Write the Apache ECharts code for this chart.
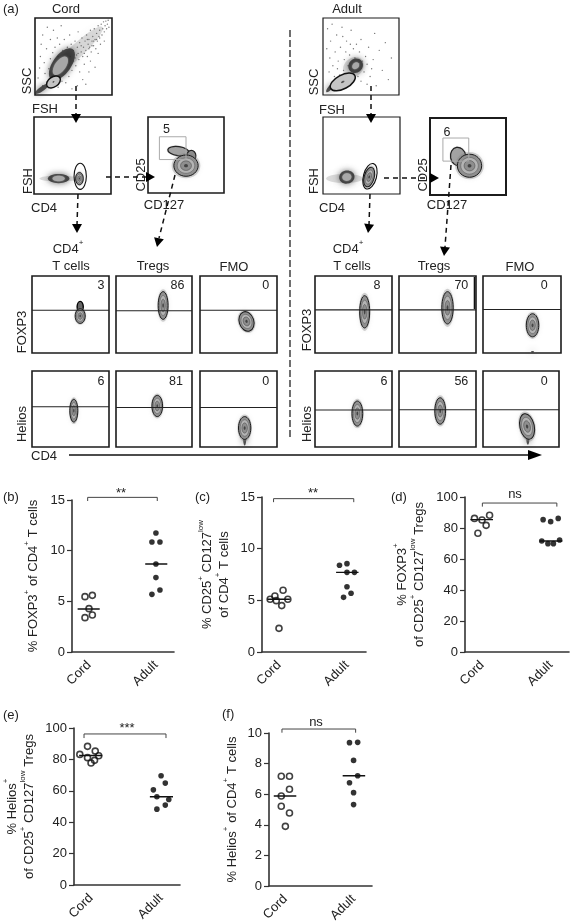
<!DOCTYPE html>
<html>
<head>
<meta charset="utf-8">
<style>
  html, body { margin: 0; padding: 0; background: #fff; }
  #chart { width: 570px; height: 921px; }
</style>
<script src="https://cdn.jsdelivr.net/npm/echarts@6/dist/echarts.min.js"></script>
</head>
<body>
<div id="chart"></div>
<script>
// ---- summary dot plots: [position, percent], 1 = Cord, 2 = Adult ----
const groupNames = ['Cord', 'Adult'];

const bCord = [[0.94, 5.46], [1.05, 5.59], [1, 4.28], [0.94, 3.39], [1.05, 3.65]];
const bAdult = [[2, 11.74], [1.94, 10.86], [2.06, 10.86], [2, 8.68], [2, 7.34], [2.06, 6.12], [1.94, 5.69]];
const bMedians = [4.25, 8.68];

const cCord = [[1.06, 5.97], [0.94, 5.42], [0.87, 5.1], [0.96, 4.97], [1.13, 5.1], [1.04, 4.49], [1, 2.29]];
const cAdult = [[1.89, 8.39], [2, 8.55], [2, 7.71], [2.11, 7.71], [2, 6.32], [2.06, 5.68], [1.95, 5.29]];
const cMedians = [5.1, 7.71];

const dCord = [[0.89, 86.2], [1, 85.2], [1.11, 88.2], [1.06, 81.7], [0.94, 76.6]];
const dAdult = [[1.89, 85.4], [2, 84.1], [2.11, 86.2], [1.87, 71.6], [1.96, 69.9], [2.04, 69.9], [2.13, 72.3]];
const dMedians = [85.4, 71.6];

const eCord = [[0.95, 88.3], [1.06, 85.3], [0.84, 83.2], [1.11, 82.3], [0.95, 81.1], [1.05, 79.4], [1, 77.7]];
const eAdult = [[2, 69.6], [2.06, 64.9], [1.89, 60.6], [1.94, 56.2], [2.11, 54.5], [2.06, 50.9], [1.94, 48.3]];
const eMedians = [82.5, 56.2];

const fCord = [[0.94, 7.17], [1.06, 7.17], [1.06, 6.32], [0.94, 5.88], [0.94, 5.21], [1.06, 4.77], [1, 3.9]];
const fAdult = [[1.94, 9.37], [2.06, 9.39], [2, 8.21], [2.06, 7.21], [1.94, 6.75], [2, 6.1], [2, 5.32]];
const fMedians = [5.88, 7.21];

// ---- flow panels: percent printed in each panel ----
const cordFoxp3Pct = ['3', '86', '0'];
const cordHeliosPct = ['6', '81', '0'];
const adultFoxp3Pct = ['8', '70', '0'];
const adultHeliosPct = ['6', '56', '0'];

// gate position of the horizontal line, panel units 0-100
const cordFoxp3Gate = [55.6, 54.8, 55.6];
const cordHeliosGate = [53, 52, 52];
const adultFoxp3Gate = [56, 56, 56.5];
const adultHeliosGate = [48.7, 49, 49];

// contours: [x, y, rx, ry, rotation, kind], panel units 0-100
const cordSscShapes = [
  [54, 57, 46, 9, 43, 0], [35, 40, 24, 12, 55, 1], [33, 38, 14, 7, 55, 5],
  [9, 8, 11, 3, 35, 1], [24, 17, 10, 6.5, 35, 3]
];
const adultSscShapes = [
  [40, 36, 15, 12, 45, 0], [43, 38, 10, 9, 40, 1], [43, 38, 5, 4, 40, 5],
  [9, 9, 7, 2.5, 50, 1], [26, 17, 18, 9, 28, 3]
];
const cordFshShapes = [
  [32, 20, 25, 4, 0, 0], [32, 20, 14, 6, 0, 1], [32, 20, 8, 3.6, 0, 5],
  [59, 20, 5, 8, 0, 2], [60, 23, 8, 17, 0, 4]
];
const adultFshShapes = [
  [28, 20, 24, 6, 0, 0], [31, 22, 10, 8.5, 10, 1], [31, 22, 6, 5, 10, 5],
  [60, 22, 6.5, 13, -15, 2], [61, 23, 8.5, 17, -15, 4]
];
const cordCd25Shapes = [
  [40, 55, 14, 6, -8, 7], [57, 49, 6, 7, 0, 8], [50, 36, 16, 14, 0, 2]
];
const adultCd25Shapes = [
  [37, 50, 10, 12, 10, 7], [52, 38, 16, 15, 0, 2]
];
const cordFoxp3Shapes = [
  [[62.6, 60, 4, 7, 0, 9], [62.6, 48, 6.5, 9.6, 0, 2]],
  [[62, 61.7, 6.5, 18, 0, 2]],
  [[60.4, 41, 9.5, 13, 18, 2]]
];
const cordHeliosShapes = [
  [[54.3, 47.8, 5.2, 15, 0, 2]],
  [[54.3, 54, 7, 14, 0, 2]],
  [[58, 11, 2, 9, 0, 1], [58, 25, 8, 15, 0, 2]]
];
const adultFoxp3Shapes = [
  [[64.5, 53.5, 6.5, 21, 0, 2]],
  [[63, 58.7, 7.4, 21, 0, 2]],
  [[63.5, 36, 8, 15, 0, 2], [63.5, 1.5, 2, 1, 0, 1]]
];
const adultHeliosShapes = [
  [[55, 44, 7, 16.5, 0, 2]],
  [[53.5, 47.4, 7, 17.4, 0, 2]],
  [[59, 11, 2, 8, 0, 1], [58, 27, 9.5, 17, 12, 2]]
];

// corners of the light square gate
const cordSquareGate = [[15, 44], [50, 44], [50, 74], [15, 74], [15, 44]];
const adultSquareGate = [[17, 44], [51, 44], [51, 74], [17, 74], [17, 44]];

// scattered events
const cordSscEvents = [
  [4, 22], [6, 35], [7, 50], [8, 66], [10, 78], [12, 42], [13, 28], [15, 60], [16, 88], [18, 34],
  [20, 47], [20, 72], [23, 55], [24, 84], [26, 62], [28, 28], [29, 74], [30, 10], [32, 66], [34, 90],
  [35, 18], [36, 58], [38, 72], [40, 16], [42, 62], [44, 24], [45, 78], [46, 50], [47, 66], [48, 32],
  [50, 44], [50, 58], [52, 70], [53, 38], [54, 52], [55, 62], [56, 82], [57, 46], [58, 30], [58, 68],
  [60, 56], [61, 74], [62, 50], [63, 62], [64, 40], [65, 70], [66, 58], [67, 78], [68, 50], [69, 66],
  [70, 72], [71, 62], [72, 84], [73, 56], [74, 70], [75, 76], [76, 64], [77, 86], [78, 72], [79, 60],
  [80, 80], [81, 70], [82, 90], [83, 76], [84, 84], [85, 66], [86, 92], [87, 78], [88, 86], [89, 95],
  [90, 82], [91, 90], [92, 96], [93, 86], [94, 92], [95, 97], [96, 88], [62, 20], [70, 30], [78, 36],
  [55, 12], [48, 8], [66, 14], [42, 40], [30, 50], [18, 14], [10, 12], [72, 44], [82, 54], [90, 70],
  [74, 64], [68, 72], [60, 64], [56, 54], [52, 48], [64, 54], [76, 70], [84, 74], [80, 72], [70, 60]
];
const adultSscEvents = [
  [5, 60], [6, 86], [8, 30], [9, 48], [10, 70], [12, 92], [13, 38], [15, 24], [16, 56], [18, 78],
  [19, 34], [20, 44], [22, 26], [23, 62], [25, 88], [27, 32], [28, 46], [30, 56], [31, 70], [33, 38],
  [35, 52], [37, 84], [38, 28], [40, 60], [42, 48], [44, 66], [46, 24], [48, 56], [50, 72], [52, 44],
  [54, 30], [56, 50], [58, 40], [60, 62], [62, 24], [64, 34], [66, 46], [68, 80], [70, 12], [74, 58],
  [78, 32], [82, 68], [86, 20], [90, 48], [50, 18], [58, 14], [14, 16], [26, 76], [36, 66], [46, 36]
];

// ---- shared styling ----
const textColor = '#222';
const fontName = '"Liberation Sans", Arial, sans-serif';
const supRich = {
  n: { fontFamily: fontName, fontSize: 13, lineHeight: 17, color: textColor, verticalAlign: 'bottom' },
  s: { fontFamily: fontName, fontSize: 8, lineHeight: 17, color: textColor, verticalAlign: 'top' }
};

// ellipse stacks per kind: [scale, fill, stroke, lineWidth, blur]
const shapeKinds = [
  [[1, 'rgba(110,110,110,0.24)', null, 0, 8]],
  [[1, 'rgba(45,45,45,0.82)', null, 0, 6]],
  [[1.18, 'rgba(130,130,130,0.35)', null, 0, 4], [1, '#8f8f8f', '#1a1a1a', 1, 0], [0.72, '#b4b4b4', '#555', 0.5, 0], [0.45, '#8e8e8e', '#444', 0.5, 0], [0.16, '#444', null, 0, 0]],
  [[1, '#c4c4c4', '#111', 1.5, 0], [0.14, '#555', null, 0, 0]],
  [[1, 'rgba(0,0,0,0)', '#111', 1.1, 0]],
  [[1, '#a8a8a8', null, 0, 2]],
  [[1, '#111', null, 0, 0]],
  [[1, '#a3a3a3', '#222', 1.2, 1]],
  [[1, '#8e8e8e', '#222', 1.2, 0]],
  [[1, '#666', '#000', 1.4, 0]]
];

function renderShape(params, api) {
  const c = api.coord([api.value(0), api.value(1)]);
  const s = api.size([api.value(2), api.value(3)]);
  return {
    type: 'group',
    x: c[0],
    y: c[1],
    rotation: api.value(4) * Math.PI / 180,
    children: shapeKinds[api.value(5)].map(l => ({
      type: 'ellipse',
      shape: { cx: 0, cy: 0, rx: s[0] * l[0], ry: s[1] * l[0] },
      style: { fill: l[1], stroke: l[2], lineWidth: l[3], shadowBlur: l[4], shadowColor: l[1] }
    }))
  };
}

const grid = [];
const xAxis = [];
const yAxis = [];
const series = [];
const graphic = [];

// ---- flow panel builder ----
function addFlowPanel(box, border) {
  const i = grid.length;
  grid.push({ show: true, outerBoundsMode: 'none', left: box[0], top: box[1], width: box[2], height: box[3], borderColor: '#1c1c1c', borderWidth: border || 1.6, backgroundColor: '#fff' });
  xAxis.push({ gridIndex: i, type: 'value', min: 0, max: 100, show: false });
  yAxis.push({ gridIndex: i, type: 'value', min: 0, max: 100, show: false });
  return i;
}

function addShapes(i, shapes) {
  series.push({
    type: 'custom', xAxisIndex: i, yAxisIndex: i, z: 3, silent: true,
    encode: { x: 0, y: 1 }, renderItem: renderShape, data: shapes
  });
}

function addGateLine(i, pts, color, width) {
  series.push({
    type: 'line', xAxisIndex: i, yAxisIndex: i, z: 4, silent: true, symbol: 'none',
    lineStyle: { color: color, width: width }, data: pts
  });
}

function addEvents(i, pts) {
  series.push({
    type: 'scatter', xAxisIndex: i, yAxisIndex: i, z: 2, silent: true, symbolSize: 1.4,
    itemStyle: { color: '#555' }, data: pts
  });
}

function addPercent(i, u, v, text) {
  series.push({
    type: 'custom', xAxisIndex: i, yAxisIndex: i, z: 5, silent: true,
    encode: { x: 0, y: 1 },
    renderItem: function (params, api) {
      const c = api.coord([api.value(0), api.value(1)]);
      return {
        type: 'text', x: c[0], y: c[1],
        style: { text: text, align: 'right', verticalAlign: 'middle', fill: textColor, font: '12.5px ' + fontName }
      };
    },
    data: [[u, v]]
  });
}

function addRow(boxes, gates, shapes, pcts, pctX, pctY) {
  boxes.forEach((box, k) => {
    const i = addFlowPanel(box);
    addShapes(i, shapes[k]);
    addGateLine(i, [[0, gates[k]], [100, gates[k]]], '#222', 1.1);
    addPercent(i, pctX[k], pctY, pcts[k]);
  });
}

let p = addFlowPanel([35, 18, 77, 77]);
addEvents(p, cordSscEvents);
addShapes(p, cordSscShapes);
p = addFlowPanel([34, 117, 77, 77]);
addShapes(p, cordFshShapes);
p = addFlowPanel([148, 117, 76, 76]);
addGateLine(p, cordSquareGate, '#aaa', 1);
addShapes(p, cordCd25Shapes);
addPercent(p, 29, 83, '5');

p = addFlowPanel([323, 18, 76, 77], 1.2);
addEvents(p, adultSscEvents);
addShapes(p, adultSscShapes);
p = addFlowPanel([323, 117, 77, 77], 1.2);
addShapes(p, adultFshShapes);
p = addFlowPanel([430, 118, 76, 77], 2);
addGateLine(p, adultSquareGate, '#aaa', 1);
addShapes(p, adultCd25Shapes);
addPercent(p, 27, 81, '6');

const cordTop = [[32, 276, 77, 77], [116, 276, 76, 77], [200, 276, 77, 77]];
const cordBottom = [[32, 371, 77, 76], [116, 371, 76, 76], [200, 371, 77, 76]];
const adultTop = [[315, 276, 77, 77], [399, 276, 77, 77], [483, 276, 78, 77]];
const adultBottom = [[315, 371, 77, 76], [399, 371, 77, 76], [483, 371, 76, 76]];
addRow(cordTop, cordFoxp3Gate, cordFoxp3Shapes, cordFoxp3Pct, [94, 90, 90], 87);
addRow(cordBottom, cordHeliosGate, cordHeliosShapes, cordHeliosPct, [94, 88, 90], 85.6);
addRow(adultTop, adultFoxp3Gate, adultFoxp3Shapes, adultFoxp3Pct, [85, 90, 83], 87);
addRow(adultBottom, adultHeliosGate, adultHeliosShapes, adultHeliosPct, [94, 90, 85], 85.6);

// ---- dot plot builder ----
function addDotPlot(o) {
  const i = grid.length;
  grid.push({ outerBoundsMode: 'none', left: o.box[0], top: o.box[1], width: o.box[2], height: o.box[3] });
  xAxis.push({
    gridIndex: i, type: 'value', min: o.xRange[0], max: o.xRange[1], splitLine: { show: false },
    axisLine: { lineStyle: { color: '#333', width: 1.6 } }, axisTick: { show: false },
    axisLabel: {
      customValues: [1, 2], rotate: 45, margin: 11, fontSize: 13, fontFamily: fontName, color: textColor,
      formatter: v => groupNames[Math.round(v) - 1]
    }
  });
  yAxis.push({
    gridIndex: i, type: 'value', min: 0, max: o.yMax, interval: o.yStep, splitLine: { show: false },
    axisLine: { show: true, onZero: false, lineStyle: { color: '#333', width: 1.6 } },
    axisTick: { show: true, length: 5, lineStyle: { color: '#333', width: 1.2 } },
    axisLabel: { margin: 7, fontSize: 13, fontFamily: fontName, color: textColor },
    name: o.title, nameLocation: 'middle', nameRotate: 90, nameGap: o.nameGap,
    nameTextStyle: { rich: supRich, lineHeight: 17, align: 'center' }
  });
  series.push({
    type: 'scatter', xAxisIndex: i, yAxisIndex: i, z: 4, symbolSize: 6, silent: true,
    itemStyle: { color: 'rgba(255,255,255,0)', borderColor: '#111', borderWidth: 1.6 }, data: o.cord
  });
  series.push({
    type: 'scatter', xAxisIndex: i, yAxisIndex: i, z: 4, symbolSize: 5.6, silent: true,
    itemStyle: { color: '#000' }, data: o.adult
  });
  [0.83, 1.84].forEach((start, k) => {
    series.push({
      type: 'line', xAxisIndex: i, yAxisIndex: i, z: 5, symbol: 'none', silent: true,
      lineStyle: { color: '#111', width: 1.4 },
      data: [[start, o.medians[k]], [start + 0.33, o.medians[k]]]
    });
  });
  const b = o.bracket;
  series.push({
    type: 'line', xAxisIndex: i, yAxisIndex: i, z: 3, symbol: 'none', silent: true, clip: false,
    lineStyle: { color: '#444', width: 1 },
    data: [[b[0], b[3]], [b[0], b[2]], [b[1], b[2]], [b[1], b[3]]]
  });
}

addDotPlot({
  box: [72, 500, 102, 152], xRange: [0.746, 2.27], yMax: 15, yStep: 5, nameGap: 32,
  title: '{n|% FOXP3}{s|+}{n| of CD4}{s|+}{n| T cells}',
  cord: bCord, adult: bAdult, medians: bMedians, bracket: [0.98, 2.02, 15.26, 14.9]
});
addDotPlot({
  box: [262, 497, 104, 155], xRange: [0.75, 2.28], yMax: 15, yStep: 5, nameGap: 31,
  title: '{n|% CD25}{s|+}{n| CD127}{s|low}\n{n|of CD4}{s|+}{n| T cells}',
  cord: cCord, adult: cAdult, medians: cMedians, bracket: [0.92, 2.1, 14.84, 14.5]
});
addDotPlot({
  box: [465, 497, 104, 155], xRange: [0.752, 2.267], yMax: 100, yStep: 20, nameGap: 39,
  title: '{n|% FOXP3}{s|+}\n{n|of CD25}{s|+}{n| CD127}{s|low}{n| Tregs}',
  cord: dCord, adult: dAdult, medians: dMedians, bracket: [1.005, 2.09, 96.1, 93.8]
});
addDotPlot({
  box: [74, 728, 106, 157], xRange: [0.757, 2.27], yMax: 100, yStep: 20, nameGap: 38,
  title: '{n|% Helios}{s|+}\n{n|of CD25}{s|+}{n| CD127}{s|low}{n| Tregs}',
  cord: eCord, adult: eAdult, medians: eMedians, bracket: [0.9, 2.07, 96.2, 93.6]
});
addDotPlot({
  box: [269, 733, 103, 153], xRange: [0.76, 2.27], yMax: 10, yStep: 2, nameGap: 30,
  title: '{n|% Helios}{s|+}{n| of CD4}{s|+}{n| T cells}',
  cord: fCord, adult: fAdult, medians: fMedians, bracket: [0.95, 2.03, 10.26, 10.02]
});

// ---- page annotations: labels, arrows, divider ----
function label(x, y, text, rotated, align) {
  graphic.push({
    type: 'text', x: x, y: y, z: 50, rotation: rotated ? Math.PI / 2 : 0, silent: true,
    style: {
      text: text, rich: supRich, align: align || 'center', verticalAlign: 'middle',
      fontFamily: fontName, fontSize: 13, fill: textColor
    }
  });
}

function arrow(x1, y1, x2, y2, tipX, tipY, dashed) {
  graphic.push({
    type: 'line', z: 60, silent: true, shape: { x1: x1, y1: y1, x2: x2, y2: y2 },
    style: { stroke: '#111', lineWidth: 1.5, lineDash: dashed ? [5, 4] : null }
  });
  const a = Math.atan2(tipY - y2, tipX - x2);
  const len = dashed ? 9 : 14;
  const half = 5;
  const bx = tipX - len * Math.cos(a);
  const by = tipY - len * Math.sin(a);
  graphic.push({
    type: 'polygon', z: 60, silent: true,
    shape: { points: [[tipX, tipY], [bx - half * Math.sin(a), by + half * Math.cos(a)], [bx + half * Math.sin(a), by - half * Math.cos(a)]] },
    style: { fill: '#000' }
  });
}

[
  [3, 9, '(a)', 'left'], [3, 497, '(b)', 'left'], [195, 497, '(c)', 'left'], [391, 497, '(d)', 'left'],
  [3, 715, '(e)', 'left'], [222, 714, '(f)', 'left']
].forEach(t => label(t[0], t[1], t[2], false, t[3]));

[
  [66, 9, 'Cord'], [347, 9, 'Adult'], [45, 109, 'FSH'], [332, 110, 'FSH'], [44, 208, 'CD4'], [332, 208, 'CD4'],
  [164, 205, 'CD127'], [447, 205, 'CD127'], [71, 266, 'T cells'], [153, 266, 'Tregs'], [234, 267, 'FMO'],
  [352, 266, 'T cells'], [434, 266, 'Tregs'], [520, 267, 'FMO'], [44, 456, 'CD4'],
  [68, 247, '{n|CD4}{s|+}'], [348, 247, '{n|CD4}{s|+}'],
  [121, 493, '**'], [313, 493, '**'], [515, 494, 'ns'], [127, 728, '***'], [316, 722, 'ns']
].forEach(t => label(t[0], t[1], t[2]));

[
  [27, 81, 'SSC'], [28, 181, 'FSH'], [141, 175, 'CD25'], [314, 82, 'SSC'], [314, 181, 'FSH'], [423, 175, 'CD25'],
  [22, 332, 'FOXP3'], [22, 424, 'Helios'], [307, 330, 'FOXP3'], [307, 424, 'Helios']
].forEach(t => label(t[0], t[1], t[2], true));

arrow(76, 86, 76, 116, 76, 123, true);
arrow(78, 194, 77, 225, 77, 233, true);
arrow(106, 177, 147, 177, 155, 177, true);
arrow(175, 175, 159, 238, 157, 247, true);
arrow(371, 86, 371, 116, 371, 123, true);
arrow(370, 194, 369, 225, 368, 233, true);
arrow(384, 178, 432, 178, 439, 178, true);
arrow(451, 165, 445, 247, 444, 256, true);
arrow(69, 455, 528, 455, 542, 455, false);

graphic.push({
  type: 'line', z: 60, silent: true, shape: { x1: 290, y1: 30, x2: 290, y2: 440 },
  style: { stroke: '#222', lineWidth: 1.3, lineDash: [7, 3] }
});
// heavier right edge on the adult FOXP3 Tregs panel
graphic.push({
  type: 'line', z: 60, silent: true, shape: { x1: 474.5, y1: 277, x2: 474.5, y2: 309 },
  style: { stroke: '#111', lineWidth: 1.6 }
});

const chart = echarts.init(document.getElementById('chart'));
chart.setOption({ animation: false, backgroundColor: '#fff', grid, xAxis, yAxis, series, graphic });
</script>
</body>
</html>
